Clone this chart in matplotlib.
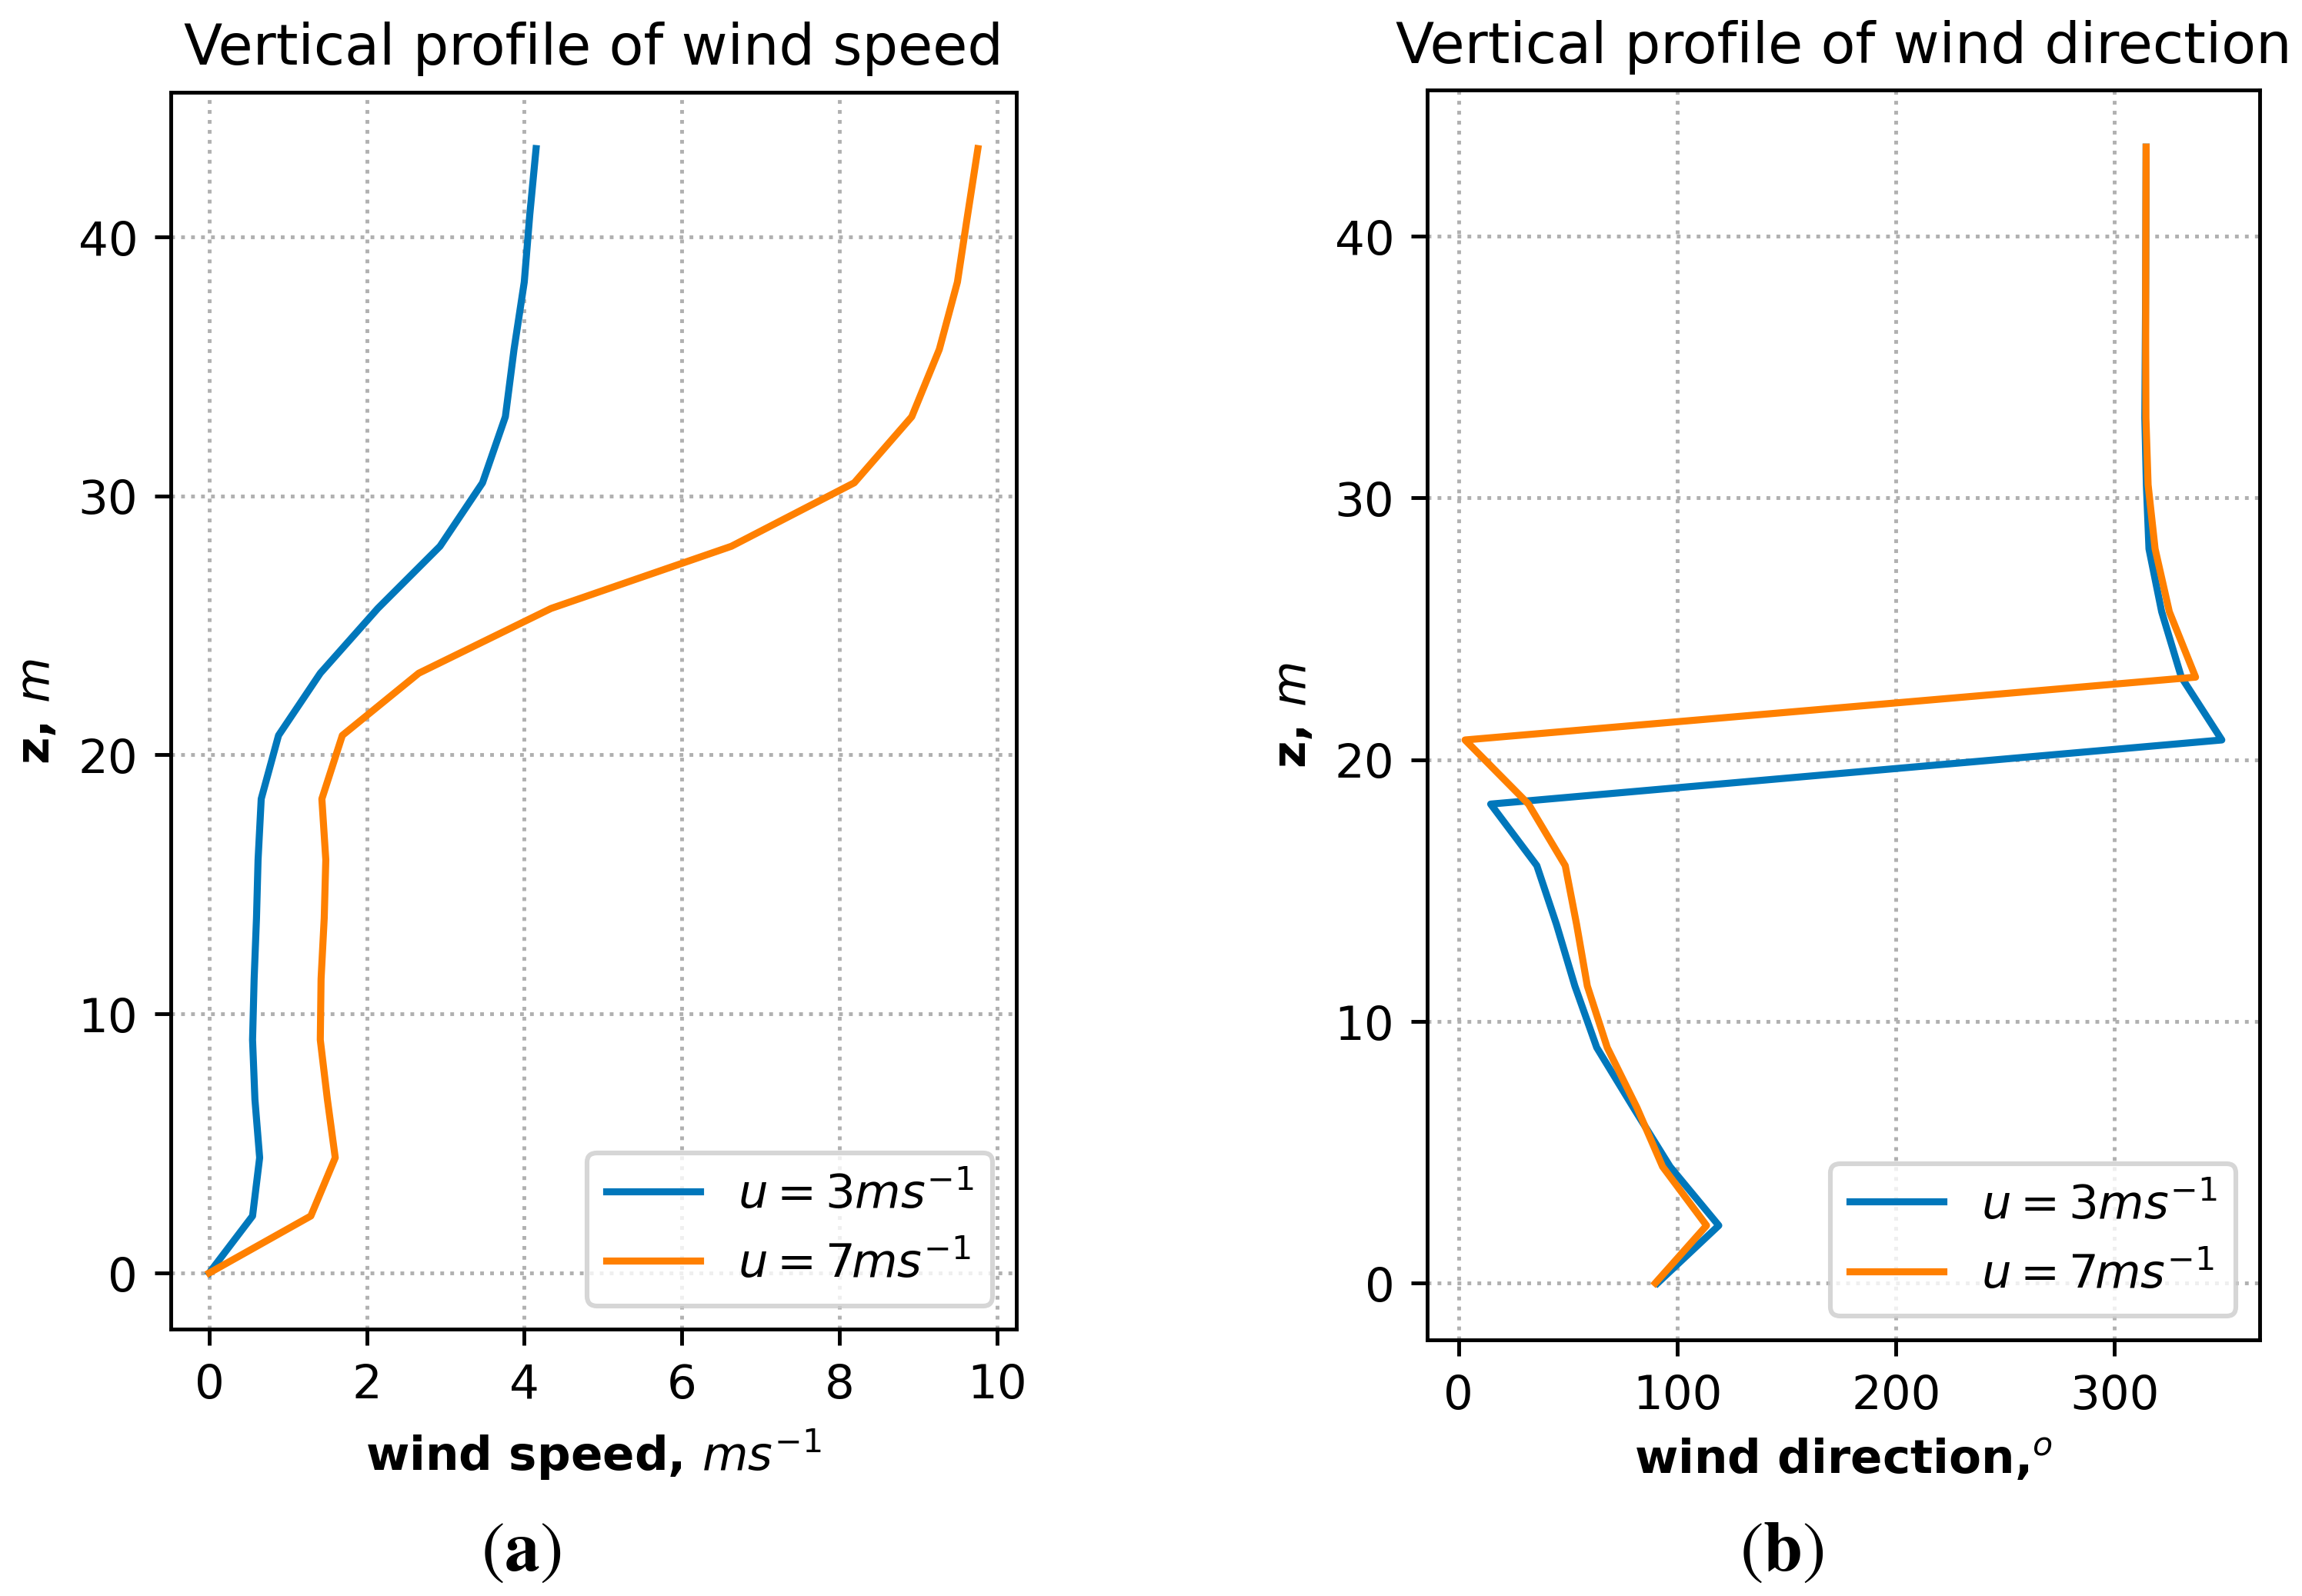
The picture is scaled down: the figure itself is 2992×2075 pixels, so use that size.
import matplotlib
matplotlib.use("Agg")
import matplotlib.pyplot as plt

# heights of the model levels, m
z = [0, 2.2, 4.45, 6.7, 9.0, 11.35, 13.7, 15.95, 18.3, 20.75, 23.15,
     25.65, 28.05, 30.5, 33.05, 35.65, 38.25, 40.85, 43.4]

# wind speed, m/s
speed_u3 = [0, 0.55, 0.64, 0.58, 0.55, 0.57, 0.60, 0.62, 0.66, 0.88, 1.41,
            2.14, 2.93, 3.47, 3.76, 3.87, 4.00, 4.07, 4.15]
speed_u7 = [0, 1.29, 1.60, 1.50, 1.41, 1.42, 1.46, 1.48, 1.43, 1.69, 2.66,
            4.34, 6.63, 8.19, 8.92, 9.27, 9.50, 9.63, 9.76]

# wind direction, degrees
dir_u3 = [91, 119, 96.7, 80, 63.2, 53.2, 44.8, 35.8, 14.7, 349, 330.5,
          321.5, 315.7, 314.5, 313.8, 314.0, 314.2, 314.3, 314.4]
dir_u7 = [90, 113.4, 93.3, 81.6, 68, 58.9, 54, 48.8, 32, 3, 337,
          325, 318.5, 315.3, 314.3, 314.2, 314.2, 314.3, 314.4]

labels = [r"$u=3ms^{-1}$", r"$u=7ms^{-1}$"]
colors = ["#0077bb", "#ff8000"]

fig = plt.figure(figsize=(6.8, 4.718), dpi=440)

ax1 = fig.add_axes([0.0742, 0.1671, 0.3673, 0.7746])
ax1.plot(speed_u3, z, color=colors[0], label=labels[0])
ax1.plot(speed_u7, z, color=colors[1], label=labels[1])
ax1.set_title("Vertical profile of wind speed")
ax1.set_xlabel("wind speed, $ms^{-1}$", fontweight="bold")
ax1.set_ylabel("z, $m$", fontweight="bold")
ax1.set_xticks([0, 2, 4, 6, 8, 10])
ax1.grid(linestyle=":")
ax1.legend(loc="lower right")

ax2 = fig.add_axes([0.6200, 0.1604, 0.3616, 0.7826])
ax2.plot(dir_u3, z, color=colors[0], label=labels[0])
ax2.plot(dir_u7, z, color=colors[1], label=labels[1])
ax2.set_title("Vertical profile of wind direction")
ax2.set_xlabel("wind direction,$^o$", fontweight="bold")
ax2.set_ylabel("z, $m$", fontweight="bold")
ax2.set_xticks([0, 100, 200, 300])
ax2.grid(linestyle=":")
ax2.legend(loc="lower right")

# panel letters: plain parentheses, bold letter, Times-like
fig.text(677 / 2992, 1 - 2042 / 2076, r"$\mathrm{(}\mathbf{a}\mathrm{)}$",
         ha="center", va="baseline", math_fontfamily="stix", fontsize=15)
fig.text(2316 / 2992, 1 - 2042 / 2076, r"$\mathrm{(}\mathbf{b}\mathrm{)}$",
         ha="center", va="baseline", math_fontfamily="stix", fontsize=15)

fig.savefig("out.png", dpi=440)
